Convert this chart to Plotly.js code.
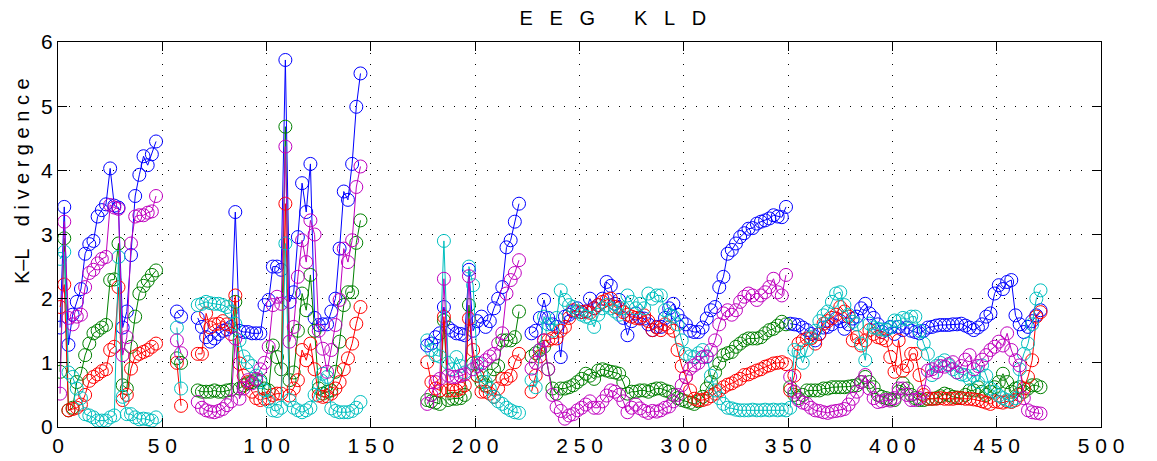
<!DOCTYPE html>
<html>
<head>
<meta charset="utf-8">
<script src="https://cdn.plot.ly/plotly-3.0.1.min.js"></script>
<style>html,body{margin:0;padding:0;background:#fff;}#chart{width:1157px;height:461px;}</style>
</head>
<body>
<div id="chart"></div>
<script>
// Epoch index (null = break in recording)
const epoch = [
  1,3,5,7,9,11,13,15,17,19,21,23,25,27,29,31,33,35,37,39,41,43,45,47,
  null,
  57,59,
  null,
  67,69,71,73,75,77,79,81,83,85,
  87,89,91,93,95,97,99,101,103,105,107,
  109,111,113,115,117,119,121,123,125,127,
  129,131,133,135,137,139,141,143,145,
  null,
  177,179,181,183,185,187,189,191,193,195,197,199,201,203,205,207,209,211,213,215,217,219,221,
  null,
  227,229,231,233,235,237,239,241,243,245,
  247,249,251,253,255,257,259,261,263,265,
  267,269,271,273,275,277,279,281,283,285,
  287,289,291,293,295,297,299,301,303,305,
  307,309,311,313,315,317,319,321,323,325,
  327,329,331,333,335,337,339,341,343,345,
  347,349,
  null,
  351,353,355,357,359,361,363,365,367,369,
  371,373,375,377,379,381,383,385,387,389,
  391,393,395,397,399,401,403,405,407,409,
  411,413,415,417,419,421,423,425,427,429,
  431,433,435,437,439,441,443,445,447,449,
  451,453,455,457,459,461,463,465,467,469,
  471
];

const kldBlue = [
  1.55,3.43,1.28,1.75,1.95,2.15,2.7,2.85,2.9,3.28,3.38,3.47,4.03,3.45,3.42,1.55,1.8,2.68,3.6,3.93,4.22,4.08,4.25,4.45,
  null,
  1.8,1.72,
  null,
  1.7,1.56,1.4,1.33,1.38,1.45,1.5,1.52,1.56,3.35,
  1.5,1.48,1.48,1.46,1.46,1.46,1.9,1.98,2.5,2.5,2.45,
  5.72,1.95,2.1,2.96,3.8,3.35,4.1,1.7,1.59,1.6,
  1.6,1.8,2.0,2.78,3.67,3.54,4.1,4.99,5.51,
  null,
  1.27,1.3,1.4,1.46,1.87,1.55,1.5,1.46,1.45,1.43,2.45,1.5,1.65,1.72,1.56,1.65,1.85,2.0,2.18,2.8,2.91,3.2,3.48,
  null,
  1.46,1.5,1.7,1.98,1.7,1.6,1.56,1.09,1.72,1.75,
  1.8,1.85,1.79,1.8,2.0,1.85,1.9,2.0,2.26,2.2,
  1.92,1.98,1.7,1.43,1.65,1.77,1.7,1.69,1.6,1.51,
  1.56,1.56,1.7,1.85,1.92,1.75,1.65,1.6,1.5,1.48,
  1.48,1.55,1.69,1.82,1.87,2.18,2.34,2.7,2.76,2.86,
  2.96,3.02,3.09,3.1,3.17,3.2,3.22,3.25,3.3,3.28,
  3.27,3.43,
  null,
  1.61,1.6,1.59,1.55,1.51,1.45,1.35,1.45,1.55,1.56,
  1.6,1.69,1.65,1.53,1.6,1.69,1.72,1.85,1.92,1.77,
  1.7,1.6,1.48,1.52,1.56,1.45,1.56,1.51,1.55,1.5,
  1.48,1.46,1.5,1.55,1.56,1.58,1.59,1.59,1.59,1.6,
  1.6,1.61,1.58,1.55,1.51,1.55,1.6,1.72,1.77,2.08,
  2.21,2.15,2.26,2.29,1.74,1.6,1.48,1.56,1.65,1.74,
  1.82
];

const kldGreen = [
  0.86,2.94,0.26,0.3,0.7,0.83,1.12,1.3,1.46,1.5,1.55,1.59,2.29,2.3,2.86,0.65,0.6,1.25,1.72,2.08,2.2,2.28,2.37,2.44,
  null,
  1.07,1.0,
  null,
  0.57,0.55,0.55,0.55,0.57,0.55,0.55,0.57,0.58,1.95,
  0.6,0.65,0.68,0.7,0.73,0.73,0.6,0.57,1.27,1.09,0.9,
  4.68,0.73,0.85,1.5,2.08,1.82,2.37,1.5,0.6,0.52,
  0.55,0.57,0.86,1.33,1.9,2.1,2.1,2.87,3.22,
  null,
  0.42,0.4,0.38,0.36,1.66,0.42,0.44,0.44,0.45,0.5,1.9,0.99,0.8,0.7,0.65,0.8,0.9,0.95,1.35,1.35,1.35,1.4,1.8,
  null,
  1.1,1.15,1.2,1.25,0.9,0.6,0.52,0.6,0.6,0.62,
  0.65,0.7,0.75,0.83,0.8,0.75,0.88,0.9,0.88,0.86,
  0.85,0.83,0.7,0.52,0.55,0.55,0.57,0.57,0.55,0.58,
  0.6,0.6,0.57,0.55,0.5,0.45,0.42,0.4,0.38,0.36,
  0.4,0.47,0.6,0.7,0.85,0.99,1.12,1.15,1.17,1.25,
  1.3,1.35,1.38,1.38,1.38,1.4,1.46,1.51,1.53,1.58,
  1.64,1.6,
  null,
  0.62,0.5,0.45,0.5,0.57,0.57,0.57,0.57,0.6,0.6,
  0.62,0.62,0.62,0.62,0.63,0.64,0.65,0.7,0.78,0.7,
  0.62,0.5,0.47,0.45,0.43,0.42,0.55,0.68,0.6,0.5,
  0.45,0.42,0.42,0.44,0.44,0.45,0.48,0.52,0.5,0.47,
  0.46,0.45,0.5,0.57,0.57,0.62,0.55,0.5,0.55,0.62,
  0.7,0.83,0.7,0.55,0.6,0.62,0.55,0.6,0.65,0.65,
  0.62
];

const kldRed = [
  1.87,2.22,0.26,0.28,0.3,0.35,0.5,0.72,0.78,0.82,0.87,0.9,1.2,1.25,2.18,0.42,0.5,0.91,1.1,1.14,1.17,1.2,1.25,1.3,
  null,
  1.0,0.33,
  null,
  1.14,1.14,1.77,1.55,1.6,1.61,1.65,1.6,1.45,2.05,
  0.99,0.8,0.7,0.55,0.45,0.42,0.44,0.45,0.5,0.52,0.52,
  3.48,0.49,0.6,0.73,1.2,1.04,1.3,0.9,0.49,0.47,
  0.48,0.52,0.6,0.7,0.9,1.07,1.3,1.61,1.87,
  null,
  1.01,0.7,0.6,0.57,1.72,0.57,0.57,0.57,0.6,0.65,1.69,1.2,0.8,0.55,0.55,0.52,0.47,0.6,0.75,0.75,0.8,1.01,1.14,
  null,
  0.55,0.8,1.1,1.35,1.35,1.38,1.38,1.5,1.56,1.7,
  1.82,1.8,1.79,1.8,1.78,1.85,1.9,1.95,1.98,2.0,
  1.87,1.85,1.79,1.75,1.72,1.7,1.69,1.74,1.65,1.51,
  1.55,1.51,1.6,1.55,1.5,1.2,0.95,0.78,0.57,0.44,
  0.42,0.42,0.44,0.48,0.52,0.57,0.62,0.66,0.68,0.72,
  0.75,0.81,0.82,0.85,0.88,0.9,0.94,0.96,0.99,1.0,
  1.01,0.98,
  null,
  0.57,0.8,1.3,1.35,1.38,1.38,1.3,1.45,1.61,1.65,
  1.7,1.75,1.87,1.8,1.72,1.35,1.4,1.27,1.35,1.51,
  1.45,1.4,1.38,1.35,1.09,0.86,1.35,0.88,0.95,1.14,
  1.14,0.81,0.5,0.44,0.44,0.44,0.45,0.44,0.44,0.44,
  0.45,0.45,0.44,0.44,0.43,0.42,0.4,0.38,0.36,0.4,
  0.39,0.38,0.4,0.39,0.42,0.5,0.6,0.78,1.04,1.72,
  1.79
];

const kldCyan = [
  2.62,2.73,0.85,0.78,0.6,0.45,0.2,0.18,0.15,0.1,0.1,0.1,0.15,0.18,2.65,0.47,0.2,0.2,0.15,0.12,0.13,0.12,0.1,0.15,
  null,
  1.55,0.6,
  null,
  1.9,1.92,1.95,1.93,1.92,1.92,1.9,1.87,1.8,1.61,
  1.35,1.1,1.01,0.95,0.8,0.7,0.57,0.4,0.26,0.25,0.3,
  2.86,0.42,0.3,0.26,0.23,0.26,0.3,0.5,0.68,0.83,
  0.78,0.29,0.25,0.23,0.23,0.23,0.25,0.3,0.39,
  null,
  1.35,1.2,1.12,1.1,2.9,1.0,0.9,1.09,0.95,0.85,2.5,2.21,1.0,0.81,0.7,0.6,0.47,0.4,0.36,0.3,0.26,0.23,0.22,
  null,
  0.73,0.62,1.2,1.72,1.6,1.5,1.7,2.13,1.98,1.9,
  1.87,1.8,1.75,1.72,1.7,1.56,1.75,1.85,1.9,1.85,
  1.8,1.75,1.85,2.05,1.95,1.85,1.92,1.85,2.08,2.0,
  2.05,2.05,1.82,1.75,1.72,1.6,1.35,1.14,1.1,1.09,
  1.15,1.2,1.09,0.8,0.57,0.45,0.36,0.3,0.29,0.27,
  0.26,0.26,0.26,0.27,0.26,0.26,0.27,0.26,0.27,0.26,
  0.27,0.26,
  null,
  0.3,1.2,1.17,1.0,1.2,1.4,1.5,1.65,1.74,1.8,
  1.95,2.08,2.1,1.9,1.75,1.64,1.6,1.3,1.04,1.61,
  1.55,1.53,1.52,1.51,1.55,1.66,1.65,1.7,1.68,1.72,
  1.72,1.5,1.3,1.14,0.81,0.95,1.0,1.04,0.96,0.9,
  0.85,0.82,0.81,0.75,0.8,0.7,0.96,0.8,0.6,0.55,
  0.49,0.45,0.42,0.4,0.45,0.9,1.14,1.3,1.6,2.0,
  2.13
];

const kldMagenta = [
  0.52,3.2,1.7,1.6,1.72,1.75,2.18,2.4,2.45,2.55,2.62,2.65,3.46,3.42,3.4,1.12,1.4,2.86,3.28,3.3,3.3,3.34,3.36,3.6,
  null,
  1.35,1.15,
  null,
  0.39,0.3,0.26,0.24,0.23,0.25,0.28,0.34,0.4,1.38,
  0.44,0.6,0.73,0.68,0.75,0.9,1.0,1.25,1.9,2.03,1.92,
  4.37,1.33,1.56,2.34,2.91,2.57,3.22,3.0,1.5,1.22,
  0.86,1.2,1.59,1.98,2.78,2.57,2.91,3.74,4.06,
  null,
  0.36,0.5,0.7,0.75,2.31,0.8,0.78,0.78,0.8,0.82,2.35,0.9,0.95,0.99,1.04,1.1,1.14,1.3,1.46,2.08,2.29,2.4,2.6,
  null,
  0.91,1.0,1.2,1.35,0.9,0.5,0.31,0.25,0.13,0.18,
  0.2,0.26,0.3,0.35,0.4,0.3,0.3,0.4,0.49,0.57,
  0.55,0.5,0.4,0.23,0.3,0.35,0.29,0.25,0.22,0.25,
  0.24,0.26,0.3,0.32,0.4,0.5,0.65,0.78,0.91,0.96,
  1.0,1.09,1.1,1.2,1.35,1.6,1.77,1.82,1.75,1.82,
  1.95,2.03,2.08,2.05,1.98,2.05,2.1,2.18,2.31,2.1,
  2.05,2.37,
  null,
  0.78,0.55,0.42,0.38,0.36,0.3,0.26,0.25,0.23,0.22,
  0.24,0.25,0.26,0.28,0.35,0.44,0.55,0.7,0.81,0.6,
  0.45,0.39,0.4,0.42,0.41,0.45,0.6,0.6,0.5,0.42,
  0.42,0.45,0.55,0.88,0.9,0.85,0.95,0.94,0.98,1.01,
  0.85,0.95,1.05,1.12,0.9,0.95,1.05,1.12,1.2,1.25,
  1.33,1.27,1.46,1.2,1.04,0.96,0.45,0.26,0.23,0.22,
  0.21
];

const xTickVals = [0,50,100,150,200,250,300,350,400,450,500];
const xTickText = ["0","5&nbsp;0","1&nbsp;0&nbsp;0","1&nbsp;5&nbsp;0","2&nbsp;0&nbsp;0","2&nbsp;5&nbsp;0","3&nbsp;0&nbsp;0","3&nbsp;5&nbsp;0","4&nbsp;0&nbsp;0","4&nbsp;5&nbsp;0","5&nbsp;0&nbsp;0"];
const yTickVals = [0,1,2,3,4,5,6];
const titleText = "E&nbsp;&nbsp;&nbsp;E&nbsp;&nbsp;&nbsp;G&nbsp;&nbsp;&nbsp;&nbsp;&nbsp;&nbsp;&nbsp;K&nbsp;&nbsp;&nbsp;L&nbsp;&nbsp;&nbsp;D";
const yTitleText = "K–L&nbsp;&nbsp;&nbsp;&nbsp;d&nbsp;i&nbsp;v&nbsp;e&nbsp;r&nbsp;g&nbsp;e&nbsp;n&nbsp;c&nbsp;e";

const seriesList = [
  {name:"b", y:kldBlue,    color:"#0000ff"},
  {name:"g", y:kldGreen,   color:"#008000"},
  {name:"r", y:kldRed,     color:"#ff0000"},
  {name:"c", y:kldCyan,    color:"#00bfbf"},
  {name:"m", y:kldMagenta, color:"#bf00bf"}
];

const traces = seriesList.map(s => ({
  x: epoch, y: s.y, name: s.name, type: "scatter", mode: "lines+markers",
  connectgaps: false,
  line: {color: s.color, width: 1},
  marker: {symbol: "circle-open", size: 13, color: s.color, line: {color: s.color, width: 1}},
  cliponaxis: true, showlegend: false
}));

const FONT = "Liberation Sans, Arial, Helvetica, sans-serif";
const axisCommon = {
  showline: true, mirror: "ticks", linecolor: "#000", linewidth: 1,
  ticks: "inside", ticklen: 9, tickcolor: "#000", tickwidth: 1,
  showgrid: true, gridcolor: "#000", gridwidth: 1, griddash: "1px,10px",
  zeroline: false, tickfont: {family: FONT, size: 21, color: "#000"}
};

const layout = {
  width: 1157, height: 461,
  margin: {l: 58, r: 56, t: 42, b: 34},
  paper_bgcolor: "#fff", plot_bgcolor: "#fff",
  title: {text: titleText, font: {family: FONT, size: 20, color: "#000"},
          x: 0.532, xref: "paper", xanchor: "center", y: 0.962, yref: "container", yanchor: "middle"},
  xaxis: Object.assign({}, axisCommon, {range: [0, 500], tickvals: xTickVals, ticktext: xTickText}),
  yaxis: Object.assign({}, axisCommon, {range: [0, 6], tickvals: yTickVals}),
  annotations: [{
    text: yTitleText, textangle: -90, showarrow: false,
    xref: "paper", yref: "paper", x: -0.035, y: 0.64, xanchor: "center", yanchor: "middle",
    font: {family: FONT, size: 20, color: "#000"}
  }]
};

Plotly.newPlot("chart", traces, layout, {staticPlot: true, displayModeBar: false});
</script>
</body>
</html>
